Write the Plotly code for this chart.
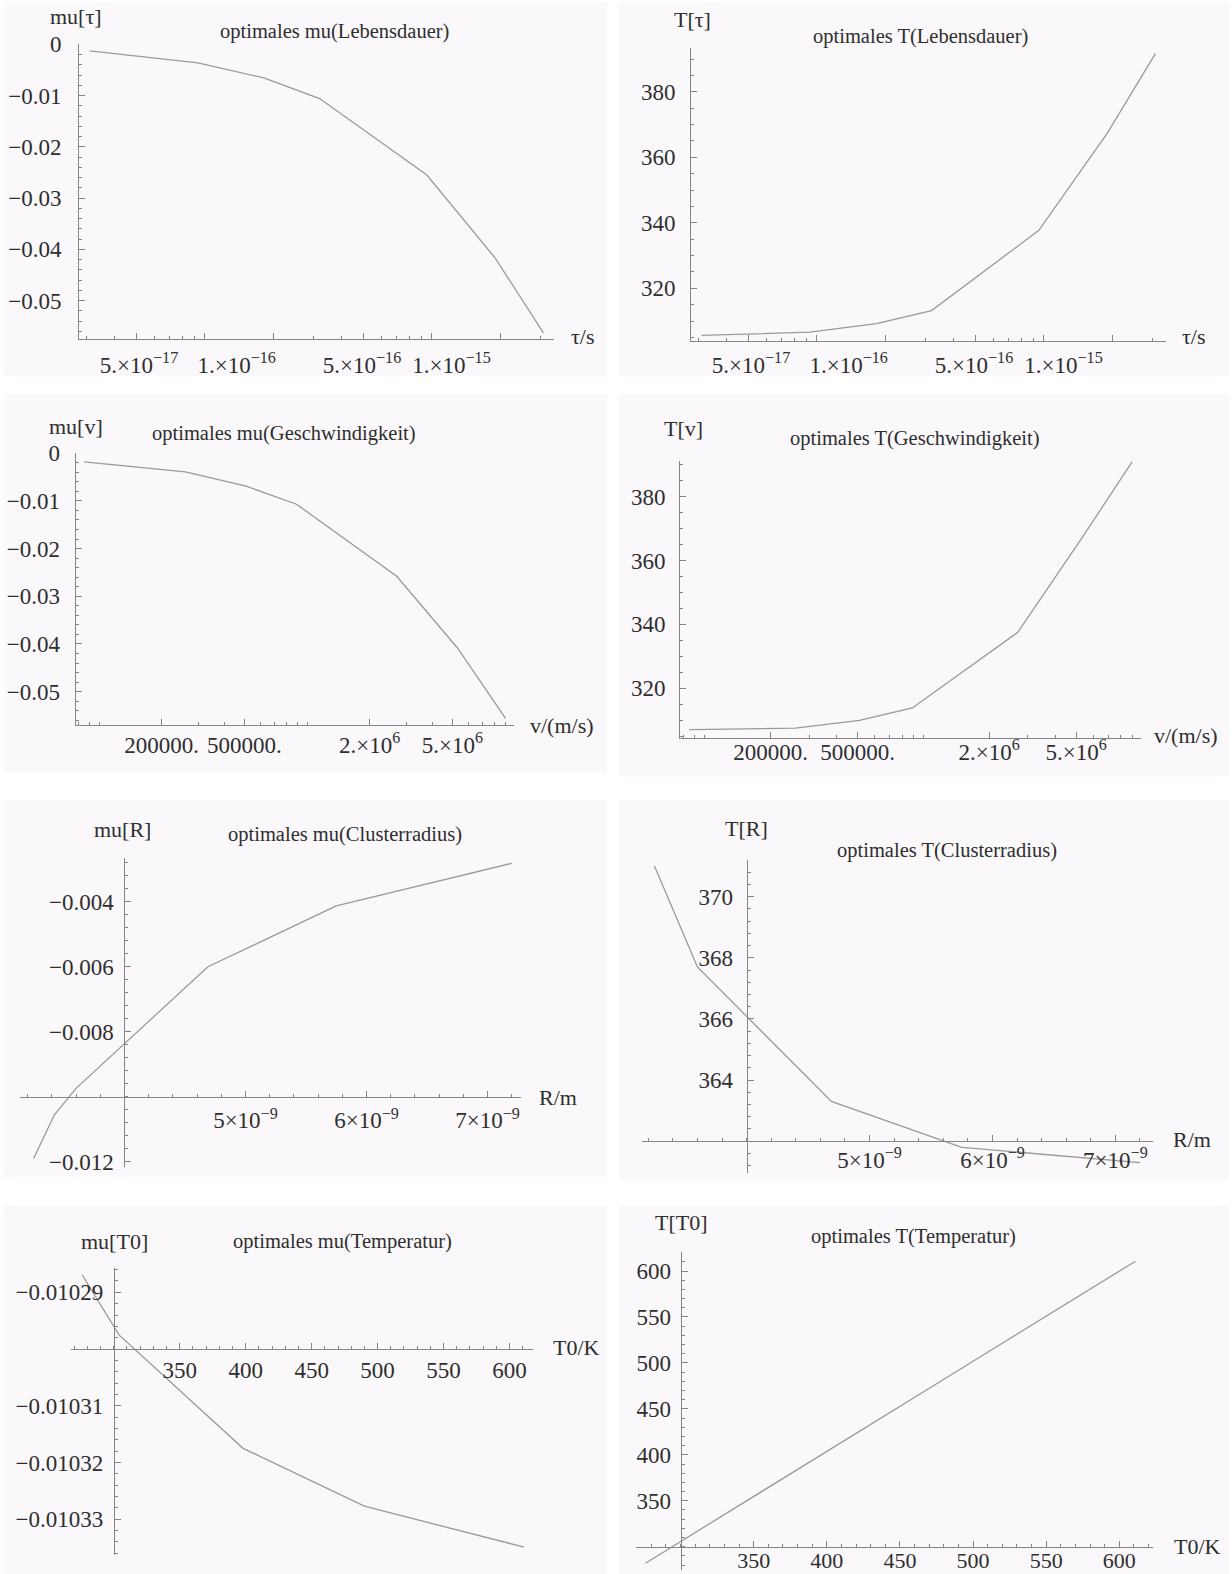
import plotly.graph_objects as go
import numpy as np

W, H = 1232, 1574

# ---------------- data ----------------
tau_s = [3.1e-17, 9.3e-17, 1.83e-16, 3.2e-16, 9.5e-16, 1.9e-15, 3.1e-15]
mu_tau = [-0.0013, -0.00365, -0.0066, -0.0106, -0.0255, -0.0417, -0.0563]
T_tau = [305.6, 306.6, 309.2, 313.2, 337.7, 367.3, 391.7]

v_ms = [8.5e4, 2.6e5, 5.1e5, 8.9e5, 2.7e6, 5.3e6, 9.0e6]
mu_v = [-0.0018, -0.0039, -0.0069, -0.0107, -0.0258, -0.0409, -0.0556]
T_v = [307.0, 307.5, 309.9, 313.8, 337.5, 367.0, 390.9]

R_m = [3.25e-9, 3.42e-9, 3.6e-9, 4.69e-9, 5.75e-9, 7.2e-9]
mu_R = [-0.0119, -0.01056, -0.00974, -0.0060, -0.00413, -0.00282]
T_R = [371.0, 369.4, 367.7, 363.3, 361.8, 361.3]

T0_K = [276, 288, 304, 398, 490, 611]
mu_T0 = [-0.0102869, -0.0102914, -0.0102975, -0.0103175, -0.0103277, -0.0103349]
T_T0 = [282.1, 293.9, 309.6, 401.8, 492.1, 610.7]

# tick values / labels
tau_ticks = [5e-17, 1e-16, 2e-16, 5e-16, 1e-15, 2e-15]
tau_ticktext = ["5.×10<sup>−17</sup>", "1.×10<sup>−16</sup>", "5.×10<sup>−16</sup>", "1.×10<sup>−15</sup>"]
v_ticks = [2e5, 5e5, 2e6, 5e6]
v_ticktext = ["200000.", "500000.", "2.×10<sup>6</sup>", "5.×10<sup>6</sup>"]
R_ticks = [5e-9, 6e-9, 7e-9]
R_ticktext = ["5×10<sup>−9</sup>", "6×10<sup>−9</sup>", "7×10<sup>−9</sup>"]
mu_tau_ticks = [0, -0.01, -0.02, -0.03, -0.04, -0.05]
mu_tau_ticktext = ["0", "−0.01", "−0.02", "−0.03", "−0.04", "−0.05"]
T_ticks = [320, 340, 360, 380]
mu_R_ticks = [-0.004, -0.006, -0.008, -0.012]
mu_R_ticktext = ["−0.004", "−0.006", "−0.008", "−0.012"]
T_R_ticks = [364, 366, 368, 370]
mu_T0_ticks = [-0.01029, -0.01031, -0.01032, -0.01033]
mu_T0_ticktext = ["−0.01029", "−0.01031", "−0.01032", "−0.01033"]
T0_ticks = [350, 400, 450, 500, 550, 600]
T_T0_ticks = [350, 400, 450, 500, 550, 600]

# ---------------- layout / style ----------------
# where the scanned τ-axis labels sit (they are drawn off-centre in the original)
TAU_LABEL_ANCHORS = [5.12e-17, 1.38e-16, 4.92e-16, 1.22e-15]

FONT = "Liberation Serif"
TXT = "#2e2e2e"
LINE = "#9a9a9a"
AX = "#858585"


def log_minor(lo, hi):
    vals = []
    for e in range(int(np.floor(lo)) - 1, int(np.ceil(hi)) + 1):
        for k in range(1, 10):
            val = k * 10.0 ** e
            if lo <= np.log10(val) <= hi:
                vals.append(float(val))
    return vals


def lin_minor(lo, hi, step):
    n0 = int(np.ceil(lo / step))
    n1 = int(np.floor(hi / step))
    return [float(round(k * step, 12)) for k in range(n0, n1 + 1)]


panels = [
    dict(x=tau_s, y=mu_tau, box=(79, 44, 554, 339), xtype="log", xr=[-16.555, -14.462], yr=[-0.0575, 0.00005],
         xt=tau_ticks, xtt=None, yt=mu_tau_ticks, ytt=mu_tau_ticktext, ymin=0.002,
         ylso=12, xlso=4, overlay_labels=True,
         ylab="mu[τ]", ylabpos=(76, 17), title="optimales mu(Lebensdauer)", tpos=(334, 31),
         xlab="τ/s", xlabpos=(583, 336)),
    dict(x=tau_s, y=T_tau, box=(691, 48, 1166, 341), xtype="log", xr=[-16.555, -14.462], yr=[303.9, 393.4],
         xt=tau_ticks, xtt=None, yt=T_ticks, ytt=[str(t) for t in T_ticks], ymin=5,
         ylso=10, xlso=2, overlay_labels=True,
         ylab="T[τ]", ylabpos=(692, 19), title="optimales T(Lebensdauer)", tpos=(920, 36),
         xlab="τ/s", xlabpos=(1194, 337)),
    dict(x=v_ms, y=mu_v, box=(75.5, 453, 514, 725), xtype="log", xr=[4.887, 6.995], yr=[-0.057, 0.00005],
         xt=v_ticks, xtt=v_ticktext, yt=mu_tau_ticks, ytt=mu_tau_ticktext, ymin=0.002,
         ylso=10, xlso=-1,
         ylab="mu[v]", ylabpos=(76, 427), title="optimales mu(Geschwindigkeit)", tpos=(284, 433),
         xlab="v/(m/s)", xlabpos=(562, 725)),
    dict(x=v_ms, y=T_v, box=(680, 461, 1141, 738), xtype="log", xr=[4.887, 6.995], yr=[304.4, 391.2],
         xt=v_ticks, xtt=v_ticktext, yt=T_ticks, ytt=[str(t) for t in T_ticks], ymin=5,
         ylso=9, xlso=-7,
         ylab="T[v]", ylabpos=(683, 428), title="optimales T(Geschwindigkeit)", tpos=(915, 438),
         xlab="v/(m/s)", xlabpos=(1186, 735)),
    dict(x=R_m, y=mu_R, box=(20, 858, 521, 1167), xtype="linear", xr=[3.137e-9, 7.277e-9], yr=[-0.01216, -0.002655],
         xt=R_ticks, xtt=R_ticktext, yt=mu_R_ticks, ytt=mu_R_ticktext, ymin=0.0004, xminstep=2e-10,
         ylso=6, xlso=3,
         xcross=4e-9, ycross=-0.01,
         ylab="mu[R]", ylabpos=(122, 829), title="optimales mu(Clusterradius)", tpos=(345, 834),
         xlab="R/m", xlabpos=(558, 1097)),
    dict(x=R_m, y=T_R, box=(642, 860, 1153, 1173), xtype="linear", xr=[3.149e-9, 7.306e-9], yr=[360.96, 371.2],
         xt=R_ticks, xtt=R_ticktext, yt=T_R_ticks, ytt=[str(t) for t in T_R_ticks], ymin=0.4, xminstep=2e-10,
         ylso=9, xlso=-2,
         xcross=4e-9, ycross=362,
         ylab="T[R]", ylabpos=(746, 828), title="optimales T(Clusterradius)", tpos=(947, 850),
         xlab="R/m", xlabpos=(1192, 1139)),
    dict(x=T0_K, y=mu_T0, box=(71, 1268, 533, 1555), xtype="linear", xr=[267.6, 617.8], yr=[-0.0103363, -0.01028571],
         xt=T0_ticks, xtt=[str(t) for t in T0_ticks], yt=mu_T0_ticks, ytt=mu_T0_ticktext, ymin=2e-6, xminstep=10,
         ylso=6, xlso=0,
         xcross=300, ycross=-0.0103,
         ylab="mu[T0]", ylabpos=(114, 1241), title="optimales mu(Temperatur)", tpos=(343, 1241),
         xlab="T0/K", xlabpos=(576, 1347)),
    dict(x=T0_K, y=T_T0, box=(636, 1252, 1153, 1570), xtype="linear", xr=[269.5, 623], yr=[274.7, 620.7],
         xt=T0_ticks, xtt=[str(t) for t in T0_ticks], yt=T_T0_ticks, ytt=[str(t) for t in T_T0_ticks], ymin=10, xminstep=10,
         ylso=5, xlso=-6, xfs=22,
         xcross=300, ycross=300,
         ylab="T[T0]", ylabpos=(681, 1222), title="optimales T(Temperatur)", tpos=(913, 1236),
         xlab="T0/K", xlabpos=(1197, 1546)),
]

bgboxes = [(4, 2, 607, 376), (619, 2, 1229, 376), (4, 394, 607, 772), (619, 394, 1229, 776),
           (4, 800, 607, 1177), (619, 800, 1229, 1180), (4, 1206, 607, 1574), (619, 1206, 1229, 1574)]

fig = go.Figure()
layout = dict(width=W, height=H, margin=dict(l=0, r=0, t=0, b=0), template="none",
              paper_bgcolor="white", plot_bgcolor="rgba(0,0,0,0)", showlegend=False,
              font=dict(family=FONT, color=TXT, size=22))
annotations = []
shapes = []

for (l, t, r, b) in bgboxes:
    shapes.append(dict(type="rect", xref="paper", yref="paper", x0=l / W, x1=r / W, y0=1 - b / H, y1=1 - t / H,
                       fillcolor="#faf8fa", line=dict(width=0), layer="below"))


def ann(text, pos, size):
    return dict(text=text, x=pos[0] / W, y=1 - pos[1] / H, xref="paper", yref="paper",
                showarrow=False, xanchor="center", yanchor="middle",
                font=dict(family=FONT, size=size, color=TXT))


extra_x = 9
for i, p in enumerate(panels):
    n = i + 1
    xa = "xaxis" if n == 1 else f"xaxis{n}"
    ya = "yaxis" if n == 1 else f"yaxis{n}"
    xr_ = "x" if n == 1 else f"x{n}"
    yr_ = "y" if n == 1 else f"y{n}"
    l, t, r, b = p["box"]
    fig.add_trace(go.Scatter(x=p["x"], y=p["y"], mode="lines", line=dict(color=LINE, width=1.3),
                             xaxis=xr_, yaxis=yr_, hoverinfo="skip"))

    if p["xtype"] == "log":
        xminor = log_minor(p["xr"][0], p["xr"][1])
    else:
        xminor = lin_minor(p["xr"][0], p["xr"][1], p["xminstep"])
    xminor = [v for v in xminor if all(abs(v / tv - 1) > 1e-6 for tv in p["xt"])]
    yminor = lin_minor(p["yr"][0], p["yr"][1], p["ymin"])
    yminor = [v for v in yminor if all(abs(v - tv) > p["ymin"] * 1e-3 for tv in p["yt"])]

    axis_common = dict(showgrid=False, zeroline=False, showline=True, linecolor=AX, linewidth=1,
                       ticks="inside", ticklen=6, tickcolor=AX, tickwidth=1, automargin=False,
                       tickangle=0, tickfont=dict(family=FONT, size=23, color=TXT))
    xdict = dict(axis_common, type=p["xtype"], range=p["xr"], domain=[l / W, r / W],
                 tickmode="array", tickvals=p["xt"], ticklabelstandoff=p["xlso"],
                 minor=dict(tickmode="array", tickvals=xminor, ticks="inside", ticklen=3,
                            tickcolor=AX, showgrid=False))
    if p["xtt"] is None:
        xdict["showticklabels"] = False
    else:
        xdict["ticktext"] = p["xtt"]
    if "xfs" in p:
        xdict["tickfont"] = dict(family=FONT, size=p["xfs"], color=TXT)

    ydict = dict(axis_common, type="linear", range=p["yr"], domain=[1 - b / H, 1 - t / H],
                 tickmode="array", tickvals=p["yt"], ticktext=p["ytt"], ticklabelstandoff=p["ylso"],
                 minor=dict(tickmode="array", tickvals=yminor, ticks="inside", ticklen=3,
                            tickcolor=AX, showgrid=False))

    if "xcross" in p:
        fx = (p["xcross"] - p["xr"][0]) / (p["xr"][1] - p["xr"][0])
        fy = (p["ycross"] - p["yr"][0]) / (p["yr"][1] - p["yr"][0])
        ypos = (l + fx * (r - l)) / W
        xpos = 1 - (b - fy * (b - t)) / H
        xdict.update(anchor="free", position=xpos)
        ydict.update(anchor="free", position=ypos)
    else:
        xdict.update(anchor=yr_)
        ydict.update(anchor=xr_)
    layout[xa] = xdict
    layout[ya] = ydict

    if p.get("overlay_labels"):
        # label-only axis laid over the τ axis, carrying the tick texts
        oname = f"xaxis{extra_x}"
        layout[oname] = dict(type="log", range=p["xr"], overlaying=xr_, anchor=yr_, side="bottom",
                             showline=False, showgrid=False, zeroline=False, ticks="", automargin=False,
                             tickmode="array", tickvals=TAU_LABEL_ANCHORS, ticktext=tau_ticktext,
                             tickangle=0, ticklabelstandoff=p["xlso"] + 6,
                             tickfont=dict(family=FONT, size=23, color=TXT))
        fig.add_trace(go.Scatter(x=p["x"], y=p["y"], mode="lines", line=dict(width=0), opacity=0,
                                 xaxis=f"x{extra_x}", yaxis=yr_, hoverinfo="skip"))
        extra_x += 1

    annotations.append(ann(p["ylab"], p["ylabpos"], 22))
    annotations.append(ann(p["title"], p["tpos"], 20.5))
    annotations.append(ann(p["xlab"], p["xlabpos"], 22))

layout["annotations"] = annotations
layout["shapes"] = shapes
fig.update_layout(**layout)
fig.write_html("out.html", config={"displayModeBar": False},
               post_script="document.body.style.margin='0px';document.body.style.padding='0px';"
                           "document.body.style.overflow='hidden';")
